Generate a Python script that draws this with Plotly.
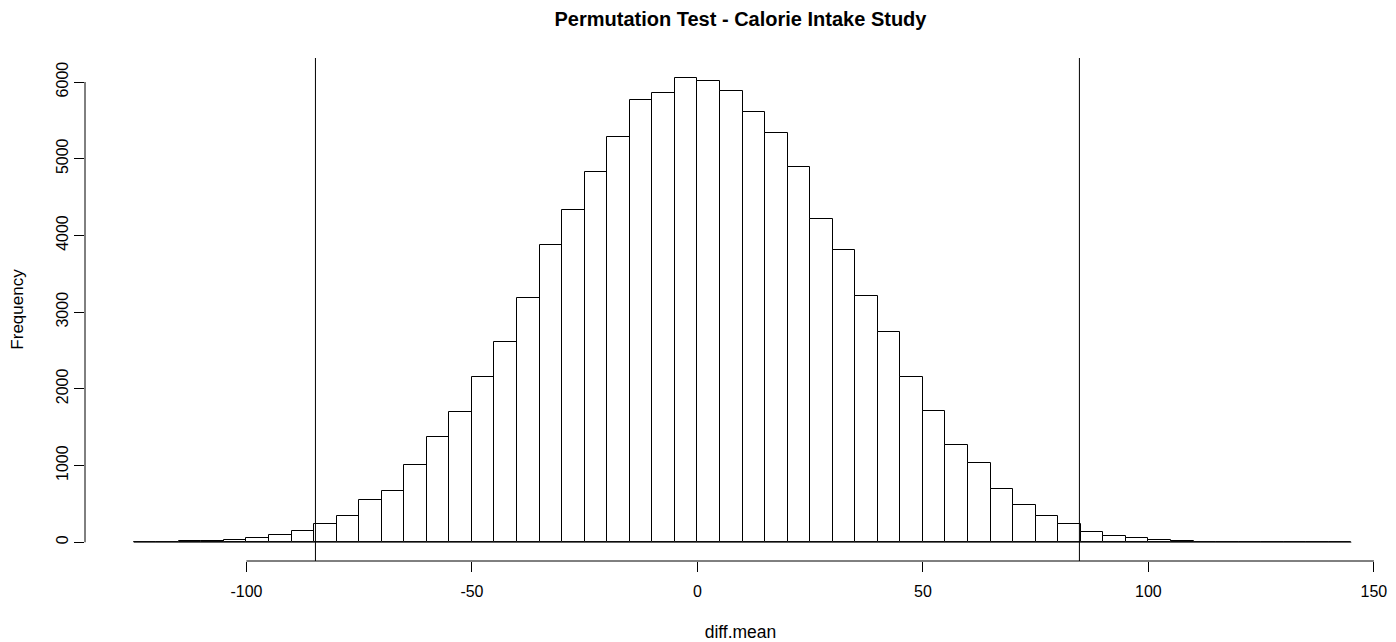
import numpy as np
import plotly.graph_objects as go

# Histogram bin edges (width 5) and counts
bin_left = list(range(-125, 145, 5))
counts = [0, 0,              # -125..-115
          12, 15, 33, 59, 89, 141, 241, 337, 546, 667,        # -115..-65
          1006, 1368, 1694, 2151, 2608, 3190, 3876, 4330, 4826, 5283,  # -65..-15
          5766, 5861, 6057, 6014, 5888, 5613, 5339, 4896, 4217, 3804,  # -15..35
          3212, 2742, 2151, 1711, 1267, 1032, 689, 484, 343, 239,      # 35..85
          138, 82, 54, 27, 15, 10,                                     # 85..115
          0, 0, 0, 0, 0, 0]                                            # 115..145
bin_width = 5
observed = [-84.7, 84.7]

x_ticks = [-100, -50, 0, 50, 100, 150]
y_ticks = [0, 1000, 2000, 3000, 4000, 5000, 6000]

centers = [b + bin_width / 2 for b in bin_left]

fig = go.Figure()
fig.add_trace(go.Bar(
    x=centers, y=counts, width=bin_width,
    marker=dict(color="white", line=dict(color="black", width=1)),
    showlegend=False, hoverinfo="x+y",
))

shapes = []
# baseline of the histogram (zero-count bins drawn flat, as in R)
shapes.append(dict(type="line", xref="x", yref="y",
                   x0=bin_left[0], x1=bin_left[-1] + bin_width, y0=0, y1=0,
                   line=dict(color="#333333", width=1)))
# observed statistic lines
for v in observed:
    shapes.append(dict(type="line", xref="x", yref="paper", x0=v, x1=v, y0=0, y1=1,
                       line=dict(color="black", width=1)))
# R-style axis lines spanning the tick range
shapes.append(dict(type="line", xref="x", yref="paper", x0=min(x_ticks), x1=max(x_ticks),
                   y0=0, y1=0, line=dict(color="black", width=1)))
shapes.append(dict(type="line", xref="paper", yref="y", x0=0, x1=0,
                   y0=min(y_ticks), y1=max(y_ticks), line=dict(color="black", width=1)))

font = "Liberation Sans, Arial, sans-serif"
fig.update_layout(
    width=1396, height=642,
    margin=dict(l=85, r=0, t=58, b=81),
    paper_bgcolor="white", plot_bgcolor="white",
    bargap=0,
    shapes=shapes,
    font=dict(family=font, size=16, color="black"),
    title=dict(text="<b>Permutation Test - Calorie Intake Study</b>",
               x=0.5, xref="paper", xanchor="center",
               y=0.97, yref="container", yanchor="middle",
               font=dict(family=font, size=20, color="black")),
    xaxis=dict(range=[-135.8, 154.9], tickvals=x_ticks, ticktext=[str(t) for t in x_ticks],
               ticks="outside", ticklen=10, tickcolor="black", tickwidth=1,
               showline=False, showgrid=False, zeroline=False,
               ticklabelstandoff=6,
               title=dict(text="diff.mean", standoff=26, font=dict(size=17.5))),
    yaxis=dict(range=[-244, 6313], tickvals=y_ticks, ticktext=[str(t) for t in y_ticks],
               ticks="outside", ticklen=10, tickcolor="black", tickwidth=1,
               tickangle=-90,
               showline=False, showgrid=False, zeroline=False,
               title=dict(text="Frequency", standoff=25, font=dict(size=17))),
)

fig.write_html("out.html")
